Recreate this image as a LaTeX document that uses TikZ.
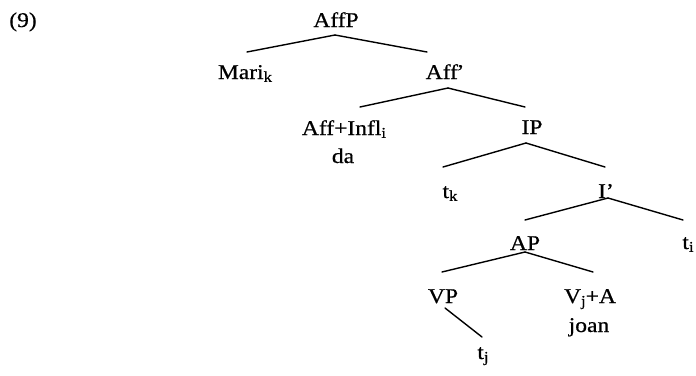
\documentclass[tikz,border=0pt]{standalone}
\usepackage{fontspec}
\setmainfont[FakeStretch=1.12, FakeBold=0.6]{Liberation Serif}
\usetikzlibrary{calc}
% index subscript: upright, a little larger and lower than \textsubscript
\newcommand{\idx}[1]{\raisebox{-0.3ex}{\fontsize{15}{15}\selectfont #1}}
\tikzset{
  lab/.style={anchor=base, inner sep=0pt, font=\fontsize{21}{24}\selectfont},
  branch/.style={line width=1.4pt, line cap=round}
}
\begin{document}
\begin{tikzpicture}[x=1pt, y=-1pt]
\useasboundingbox (0,0) rectangle (696,375);
% example number
\node[lab] (num) at (23,27) {(9)};
% tree labels, placed on their baselines
\node[lab] (AffP) at (336,27) {AffP};
\node[lab] (Mari) at (245,79) {Mari\idx{k}};
\node[lab] (Affbar) at (445,79) {Aff\kern-1.5pt’};
\node[lab] (AffInfl) at (344,135) {Aff+Infl\idx{i}};
\node[lab] (da) at (343,163) {da};
\node[lab] (IP) at (532,134) {IP};
\node[lab] (tk) at (450,198) {t\idx{k}};
\node[lab] (Ibar) at (606,198) {I’};
\node[lab] (AP) at (525,250) {AP};
\node[lab] (ti) at (688,249) {t\idx{i}};
\node[lab] (VP) at (443,303) {VP};
\node[lab] (VA) at (590,303) {V\idx{j}+A};
\node[lab] (joan) at (589,332) {joan};
\node[lab] (tj) at (483,359) {t\idx{j}};
% branches
\draw[branch] ($(AffP.base)+(-1,8)$) -- ($(Mari.base)+(2,-27)$);
\draw[branch] ($(AffP.base)+(-1,8)$) -- ($(Affbar.base)+(-18,-27)$);
\draw[branch] ($(Affbar.base)+(3,9)$) -- ($(AffInfl.base)+(16,-28)$);
\draw[branch] ($(Affbar.base)+(3,9)$) -- ($(IP.base)+(-7,-27)$);
\draw[branch] ($(IP.base)+(-6,9)$) -- ($(tk.base)+(-7,-31)$);
\draw[branch] ($(IP.base)+(-6,9)$) -- ($(Ibar.base)+(-1,-31)$);
\draw[branch] ($(Ibar.base)+(2,0)$) -- ($(AP.base)+(0,-30)$);
\draw[branch] ($(Ibar.base)+(2,0)$) -- ($(ti.base)+(-5,-29)$);
\draw[branch] ($(AP.base)+(0,2)$) -- ($(VP.base)+(-1,-31)$);
\draw[branch] ($(AP.base)+(0,2)$) -- ($(VA.base)+(3,-31)$);
\draw[branch] ($(VP.base)+(2,5)$) -- ($(tj.base)+(-1,-22)$);
\end{tikzpicture}
\end{document}
